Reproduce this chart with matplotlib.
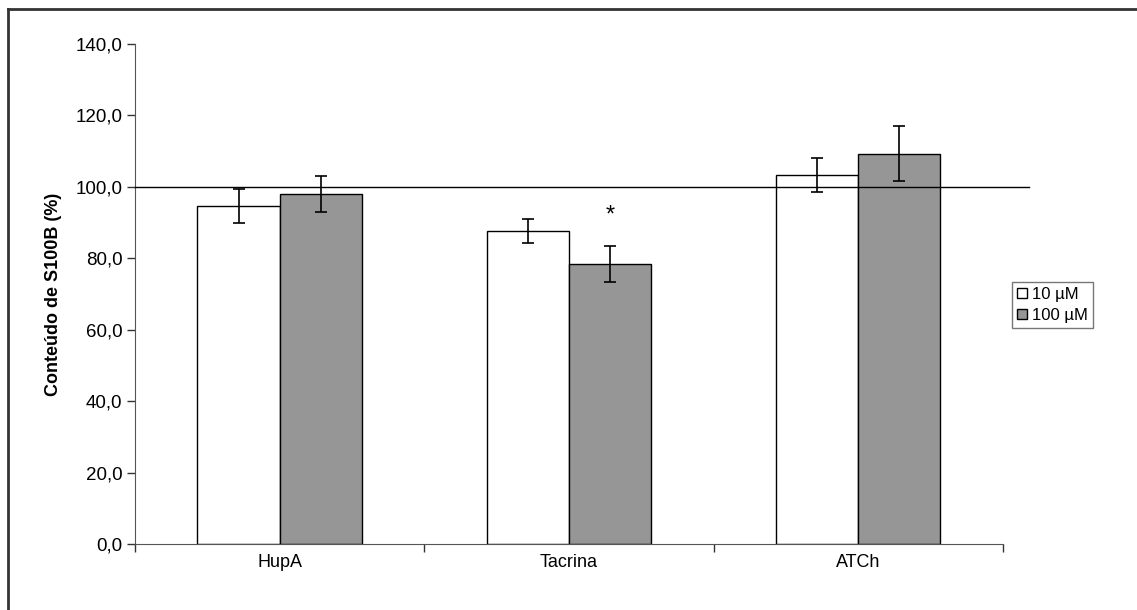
import numpy as np
import matplotlib.pyplot as plt
from matplotlib.lines import Line2D

plt.rcParams['font.family'] = ['Liberation Sans', 'DejaVu Sans']

categories = ['HupA', 'Tacrina', 'ATCh']
labels = ['10 µM', '100 µM']
mean_10 = [94.7, 87.6, 103.3]
err_10 = [4.8, 3.4, 4.7]
mean_100 = [97.9, 78.3, 109.3]
err_100 = [5.0, 5.0, 7.7]
star_height = 92.0

fig = plt.figure(figsize=(11.37, 6.1), dpi=100)
ax = fig.add_axes([0.1187, 0.1082, 0.7634, 0.8197])

x = np.arange(len(categories))
w = 0.284
ax.bar(x - w / 2, mean_10, w, color='white', edgecolor='black', linewidth=1.0,
       label=labels[0], zorder=2)
ax.bar(x + w / 2, mean_100, w, color='#969696', edgecolor='black', linewidth=1.0,
       label=labels[1], zorder=2)
ax.errorbar(x - w / 2, mean_10, yerr=err_10, fmt='none', ecolor='black',
            elinewidth=1.2, capsize=4.5, capthick=1.2, zorder=3)
ax.errorbar(x + w / 2, mean_100, yerr=err_100, fmt='none', ecolor='black',
            elinewidth=1.2, capsize=4.5, capthick=1.2, zorder=3)

# reference line at 100 %
ax.plot([0, 1.03], [100, 100], transform=ax.get_yaxis_transform(),
        color='black', linewidth=1.0, clip_on=False, zorder=4)

ax.text(x[1] + w / 2, star_height, '*', ha='center', va='center',
        fontsize=17)

ax.set_xlim(-0.5, 2.5)
ax.set_ylim(0, 140)
ax.set_yticks(np.arange(0, 141, 20))
ax.set_yticklabels([f'{v:.1f}'.replace('.', ',') for v in np.arange(0, 141, 20)])
ax.set_xticks(x)
ax.set_xticklabels(categories)
ax.set_xticks([-0.5, 0.5, 1.5, 2.5], minor=True)
ax.tick_params(axis='x', which='major', length=0, pad=7, labelsize=13)
ax.tick_params(axis='x', which='minor', length=6, width=1, color='#333333')
ax.tick_params(axis='y', length=6, width=1, color='#333333', labelsize=13.5, pad=3)
ax.spines['top'].set_visible(False)
ax.spines['right'].set_visible(False)
ax.spines['left'].set_color('#555555')
ax.spines['bottom'].set_color('#555555')
ax.set_ylabel('Conteúdo de S100B (%)', fontsize=13, fontweight='bold', labelpad=10)

leg = ax.legend(loc='center left', bbox_to_anchor=(1.005, 0.478), fontsize=12,
                frameon=True, fancybox=False, handlelength=0.6, handleheight=0.6,
                handletextpad=0.3, borderpad=0.3, labelspacing=0.35,
                borderaxespad=0.3)
leg.get_frame().set_edgecolor('#555555')
leg.get_frame().set_linewidth(1.0)

# outer frame (left and top edges)
fig.add_artist(Line2D([8 / 1137, 8 / 1137], [0, 1 - 9 / 610], color='#333333', linewidth=2))
fig.add_artist(Line2D([8 / 1137, 1], [1 - 9 / 610, 1 - 9 / 610], color='#333333', linewidth=2))

fig.savefig('out.png', dpi=100)
